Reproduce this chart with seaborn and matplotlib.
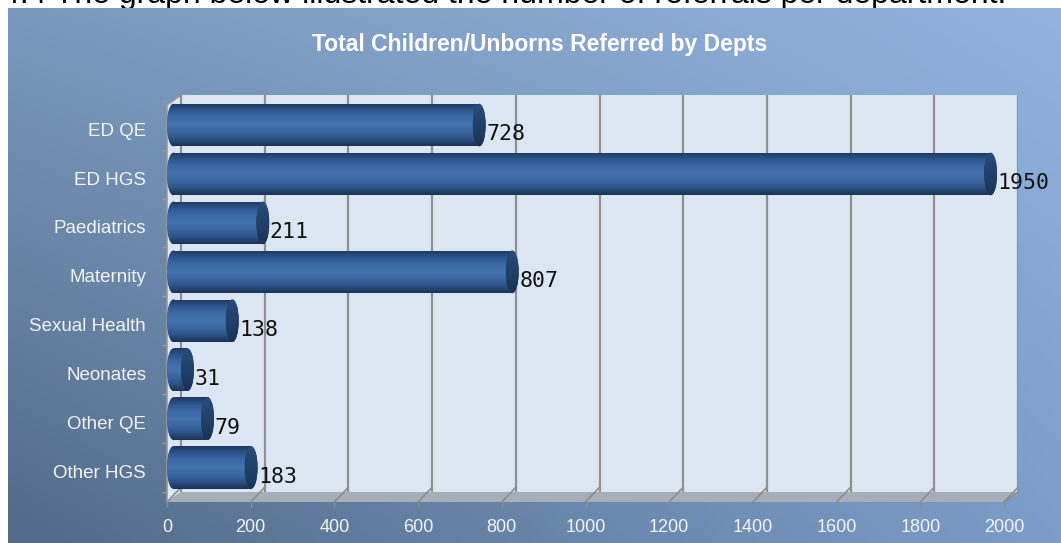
import numpy as np
import pandas as pd
import matplotlib
matplotlib.use("Agg")
import matplotlib.pyplot as plt
import seaborn as sns
from matplotlib.patches import Polygon, Ellipse
from matplotlib.lines import Line2D
from matplotlib.transforms import ScaledTranslation
from matplotlib.colors import to_rgb

# ---------------- data ----------------
departments = ["ED QE", "ED HGS", "Paediatrics", "Maternity",
               "Sexual Health", "Neonates", "Other QE", "Other HGS"]
referrals = [728, 1950, 211, 807, 138, 31, 79, 183]
x_ticks = [0, 200, 400, 600, 800, 1000, 1200, 1400, 1600, 1800, 2000]
chart_title = "Total Children/Unborns Referred by Depts"
caption = "4.4 The graph below illustrated the number of referrals per department."

# ---------------- layout (pixels from top-left) ----------------
W, H, DPI = 1061, 543, 100
BG_X, BG_Y = 8, 8
FRONT_L, BACK_L, BACK_R, FRONT_R = 167, 181, 1018, 1004
TOP_BACK, TOP_FRONT, BOT_BACK, BOT_FRONT = 95, 105, 492, 502
XMAX = 2000
X0 = (BACK_L - FRONT_L) * XMAX / (BACK_R - BACK_L)   # data units left of 0
R_PX = 6.5                                           # cylinder cap radius (px)

sns.set_theme(style="white")
plt.rcParams["font.family"] = ["Liberation Sans", "DejaVu Sans"]

fig = plt.figure(figsize=(W / DPI, H / DPI), dpi=DPI)
fig.patch.set_facecolor("white")


def fx(px):
    return px / W


def fy(py):
    return 1 - py / H


# ---------------- background ----------------
bg = fig.add_axes([0, 0, 1, 1], zorder=0)
tl, tr, bl, br = (np.array(to_rgb(c)) for c in ["#7a99be", "#92b3de", "#526a87", "#7c9dc9"])
ny, nx = 120, 240
u = np.linspace(0, 1, nx)[None, :, None]
v = np.linspace(0, 1, ny)[:, None, None]
img = (1 - v) * ((1 - u) * tl + u * tr) + v * ((1 - u) * bl + u * br)
bg.imshow(img, extent=(BG_X, W, H, BG_Y), aspect="auto", interpolation="bilinear")
bg.set_xlim(0, W)
bg.set_ylim(H, 0)
bg.axis("off")

wall = Polygon([(FRONT_L, TOP_FRONT), (BACK_L, TOP_BACK), (BACK_R, TOP_BACK),
                (BACK_R, BOT_BACK), (BACK_L, BOT_BACK), (FRONT_L, BOT_FRONT)],
               closed=True, fc="#dce6f2", ec="none")
bg.add_patch(wall)
floor = Polygon([(BACK_L, BOT_BACK), (BACK_R, BOT_BACK), (FRONT_R, BOT_FRONT), (FRONT_L, BOT_FRONT)],
                closed=True, fc="#a7aeb7", ec="none")
bg.add_patch(floor)
bg.add_line(Line2D([FRONT_L, FRONT_L], [TOP_FRONT, BOT_FRONT], color="#9a9a9a", lw=1.2))
bg.add_line(Line2D([FRONT_L, BACK_L], [TOP_FRONT, TOP_BACK], color="#9a9a9a", lw=1.2))
bg.add_line(Line2D([BACK_R, FRONT_R], [BOT_BACK, BOT_FRONT], color="#8e8e8e", lw=1.2))

# ---------------- main (back wall) axes ----------------
ax = fig.add_axes([fx(FRONT_L), fy(BOT_BACK), (BACK_R - FRONT_L) / W, (BOT_BACK - TOP_BACK) / H], zorder=2)
ax.set_facecolor("none")
for s in ax.spines.values():
    s.set_visible(False)

df = pd.DataFrame({"dept": departments, "n": referrals})
sns.barplot(data=df, x="n", y="dept", orient="y", color="#3a65a0", width=0.87,
            saturation=1, ax=ax, zorder=3, edgecolor="none")

ax.set_xlim(-X0, XMAX)
ax.set_ylim(7.404, -0.616)
ax.set_xticks(x_ticks)
ax.grid(axis="x", color="#8f8f8f", lw=1.6, zorder=1)
ax.grid(axis="y", visible=False)
ax.tick_params(axis="x", length=0, labelbottom=False)
ax.set_xlabel("")
ax.set_ylabel("")

# cylinder shading
body_stops = ["#1d3860", "#2e568e", "#3d6aa6", "#4373b1", "#3b66a1", "#2d5287", "#1b3357"]
cap_stops = ["#2b4c7b", "#24446f", "#1f3c63", "#1a3356"]


def grad(stops, n=64):
    cols = np.array([to_rgb(c) for c in stops])
    t = np.linspace(0, 1, len(stops))
    tt = np.linspace(0, 1, n)
    return np.stack([np.interp(tt, t, cols[:, k]) for k in range(3)], axis=1)[:, None, :]


body_img = grad(body_stops)
cap_img = grad(cap_stops)
px_per_unit = (BACK_R - FRONT_L) / (XMAX + X0)
r = R_PX / px_per_unit

for p in list(ax.patches):
    val = p.get_x() + p.get_width()
    y0, h = p.get_y(), p.get_height()
    left = -X0 + r
    p.set_x(left)
    p.set_width(max(val - r - left, 0.01))
    le = Ellipse((left, y0 + h / 2), 2 * r, h, fc="#3a65a0", ec="none", zorder=3)
    ax.add_patch(le)
    for clip in (p, le):
        im = ax.imshow(body_img, extent=(-X0, val, y0 + h, y0), aspect="auto",
                       interpolation="bilinear", zorder=3.1)
        im.set_clip_path(clip)
    cap = Ellipse((val - r, y0 + h / 2), 2 * r, h, fc="#24446f", ec="none", zorder=3.2)
    ax.add_patch(cap)
    imc = ax.imshow(cap_img, extent=(val - 2 * r, val, y0 + h, y0), aspect="auto",
                    interpolation="bilinear", zorder=3.3)
    imc.set_clip_path(cap)
    ax.text(val, y0 + h / 2, f"{val:g}",
            transform=ax.transData + ScaledTranslation(0.5 / DPI, -9 / DPI, fig.dpi_scale_trans),
            ha="left", va="center", fontsize=15.5, family="DejaVu Sans Mono", color="#111111", zorder=5)

ax.set_xlim(-X0, XMAX)
ax.set_ylim(7.404, -0.616)

# y tick labels (category names)
ax.set_yticks(np.arange(-0.5, 7.6, 1), minor=True)
ax.tick_params(axis="y", which="major", length=0, pad=(FRONT_L - 146) * 72 / DPI,
               labelsize=13.5, labelcolor="#f4f4f4")
ax.tick_params(axis="y", which="minor", left=True, length=3.5, width=1, color="#9a9a9a")
for lbl in ax.get_yticklabels():
    lbl.set_transform(lbl.get_transform() + ScaledTranslation(0, -4 / DPI, fig.dpi_scale_trans))

# ---------------- front axis (tick labels) ----------------
fa = fig.add_axes([fx(FRONT_L), fy(BOT_FRONT), (FRONT_R - FRONT_L) / W, 0.0005], zorder=1)
fa.set_facecolor("none")
for s in fa.spines.values():
    s.set_visible(False)
fa.set_xlim(0, XMAX)
fa.set_xticks(x_ticks)
fa.set_xticklabels([str(t) for t in x_ticks])
fa.set_yticks([])
fa.tick_params(axis="x", bottom=True, length=3.6, width=1, color="#8c8c8c",
               labelsize=13, labelcolor="#f4f4f4", pad=9)

# floor grid diagonals
fig.canvas.draw()
inv = bg.transData.inverted()
for t in x_ticks:
    b = inv.transform(ax.transData.transform((t, 7.404)))
    f = inv.transform(fa.transData.transform((t, 0)))
    bg.add_line(Line2D([b[0], f[0]], [b[1], f[1]], color="#8c8c8c", lw=1.2, zorder=3))

# ---------------- texts ----------------
fig.text(fx(540), fy(45), chart_title, ha="center", va="center", color="white",
         fontsize=16.5, fontweight="bold")
fig.text(fx(2), fy(3), caption, ha="left", va="baseline", fontsize=23, color="black", zorder=-1)

fig.savefig("out.png", dpi=DPI)
